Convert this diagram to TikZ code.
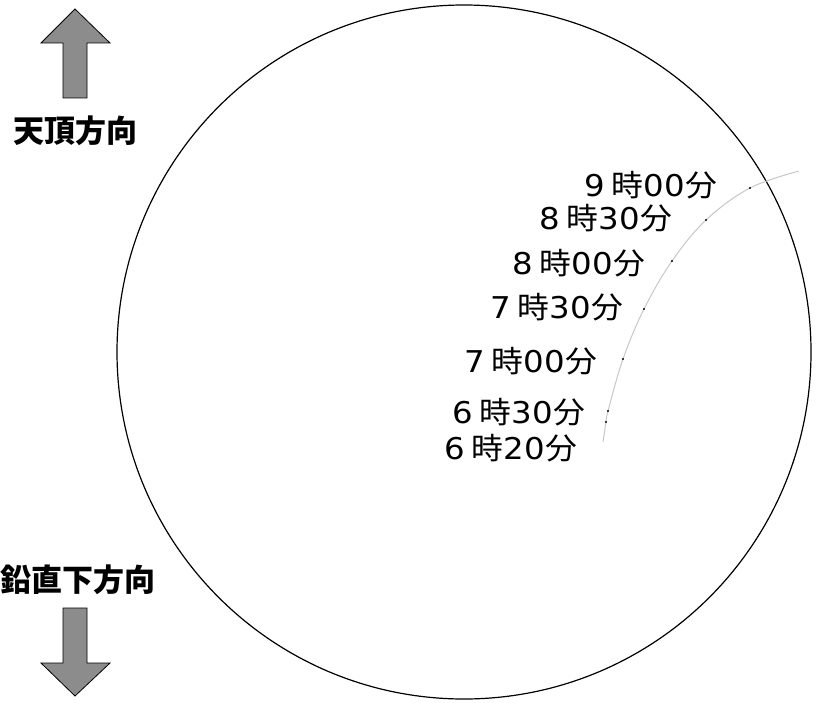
\documentclass[tikz,border=0pt]{standalone}
\usepackage{fontspec}
\newfontfamily\cjk{Noto Sans CJK JP}
\newfontfamily\cjkw[FakeStretch=1.06]{Noto Sans CJK JP}
\newfontfamily\dv[FakeStretch=1.08]{DejaVu Sans}
\newcommand{\tlabel}[2]{{\dv #1}{\cjkw\ 時}{\dv #2}{\cjkw 分}}
\begin{document}
\begin{tikzpicture}[x=1pt,y=-1pt,
  arrowshape/.style={fill=black!45,draw=black,line width=0.8pt,line join=miter},
  timelbl/.style={anchor=east,inner sep=0pt,font=\fontsize{30}{30}\selectfont},
  dirlbl/.style={inner sep=0pt,font=\cjk\bfseries\fontsize{31}{31}\selectfont},
  tdot/.style={fill=black,circle,inner sep=0pt,minimum size=2.2pt}]
\useasboundingbox (0,0) rectangle (818,703);
% main circle
\draw[line width=1.2pt] (464,352) circle[radius=347];
% sun path
\draw[black!22,line width=1pt] plot[smooth,tension=0.6] coordinates {(603,442) (606,422) (608,411) (623,359) (644,309) (672,261) (706,220) (750,188) (799,171)};
% dots
\node[tdot] (d620) at (606,422) {};
\node[tdot] (d630) at (608,411) {};
\node[tdot] (d700) at (623,359) {};
\node[tdot] (d730) at (644,309) {};
\node[tdot] (d800) at (672,261) {};
\node[tdot] (d830) at (706,220) {};
\node[tdot] (d900) at (750,188) {};
% time labels
\node[timelbl] (l900) at (717,185) {\tlabel{9}{00}};
\node[timelbl] (l830) at (672,218) {\tlabel{8}{30}};
\node[timelbl] (l800) at (645,263) {\tlabel{8}{00}};
\node[timelbl] (l730) at (623,307) {\tlabel{7}{30}};
\node[timelbl] (l700) at (597,361) {\tlabel{7}{00}};
\node[timelbl] (l630) at (585,412) {\tlabel{6}{30}};
\node[timelbl] (l620) at (577,448) {\tlabel{6}{20}};
% direction arrows
\draw[arrowshape] (63,98) -- (63,43) -- (41,43) -- (75,9) -- (110,43) -- (87,43) -- (87,98) -- cycle;
\draw[arrowshape] (63,608) -- (63,663) -- (41,663) -- (75,696) -- (110,663) -- (87,663) -- (87,608) -- cycle;
\node[dirlbl] (zen) at (75,131) {天頂方向};
\node[dirlbl,anchor=east] (nad) at (156,580) {鉛直下方向};
\end{tikzpicture}
\end{document}
